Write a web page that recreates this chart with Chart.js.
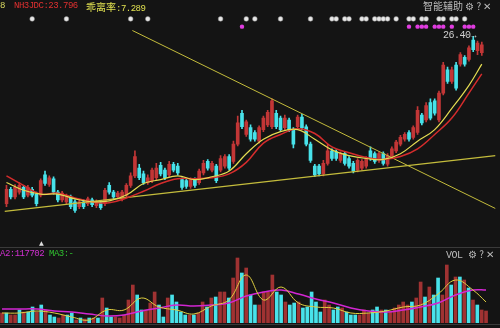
<!DOCTYPE html>
<html>
<head>
<meta charset="utf-8">
<script src="https://cdn.jsdelivr.net/npm/chart.js@4"></script>
<style>
  body { margin: 0; background: #141414; width: 500px; height: 328px; overflow: hidden; position: relative;
         font-family: "Liberation Mono", "DejaVu Sans Mono", monospace; font-size: 9px; }
  canvas { position: absolute; left: 0; }
  .t { position: absolute; white-space: nowrap; line-height: 11px; letter-spacing: -0.5px; }
  .cjk { font-family: "Noto Sans CJK SC", sans-serif; font-size: 10px; letter-spacing: 0; }
  .hr { position: absolute; left: 0; width: 500px; height: 1px; background: #3a3a3a; }
</style>
</head>
<body>
<canvas id="priceChart" width="500" height="240" style="top:0"></canvas>
<canvas id="volChart" width="500" height="71" style="top:252px"></canvas>

<div class="t" style="left:0;top:1px;color:#d8d860">8</div>
<div class="t" style="left:14px;top:1px;color:#e03030">NH3JDC:23.796</div>
<div class="t" style="left:86px;top:1px;color:#e0e050"><span class="cjk">乖离率</span>:7.289</div>
<div class="t cjk" style="left:423px;top:0;color:#bbbbbb">智能辅助 ⚙ ? ✕</div>
<div class="t" style="left:443px;top:30px;color:#cfcfcf;font-size:10px">26.40→</div>

<div class="hr" style="top:247px"></div>
<div class="t" style="left:39px;top:238px;color:#dddddd;font-size:8px">▲</div>
<div class="t" style="left:0;top:249px;color:#d030d0">A2:117702</div>
<div class="t" style="left:49px;top:249px;color:#30c030">MA3:-</div>
<div class="t" style="left:446px;top:248px;color:#bbbbbb;font-size:10px">VOL <span class="cjk">⚙ ? ✕</span></div>
<div class="hr" style="top:324px"></div>

<script>
// daily candles, oldest first
const open = [12.48,13.68,13.04,13.44,13.84,13.20,13.68,13.28,13.20,14.88,
  14.08,14.56,13.44,12.80,12.64,13.04,12.64,12.24,12.64,12.48,
  12.80,12.32,12.56,12.48,14.00,13.44,13.04,12.88,13.20,14.00,
  14.80,15.44,14.96,14.24,14.40,14.64,15.68,15.28,14.88,15.76,
  15.60,14.48,14.40,13.92,14.48,14.24,15.04,16.00,15.28,15.60,
  15.28,15.60,16.40,16.00,17.44,20.00,18.24,18.80,18.40,17.68,
  18.64,19.04,18.88,20.00,19.60,18.80,19.44,18.64,18.88,19.68,
  18.88,17.44,15.60,15.60,14.96,15.84,16.88,16.80,16.08,16.64,
  16.24,15.84,15.28,15.44,15.60,16.88,16.64,16.08,16.64,15.76,
  16.40,16.88,17.44,17.84,18.40,18.00,18.40,19.84,19.44,20.88,
  21.04,19.44,21.68,23.60,22.64,24.00,24.08,24.64,24.48,26.08,
  25.20,25.04];
const close = [13.68,13.04,13.84,14.00,13.04,13.84,13.20,12.48,14.40,14.16,
  14.64,13.44,12.80,13.36,13.04,12.24,11.92,12.64,12.24,12.88,
  12.40,12.64,12.16,13.60,13.44,13.04,13.36,13.44,14.00,14.80,
  16.40,14.64,14.24,14.64,15.28,15.44,14.96,14.64,15.76,15.28,
  15.04,13.84,13.92,14.48,14.00,15.20,15.84,15.44,15.84,14.40,
  16.24,16.40,15.44,17.44,19.20,18.88,19.28,17.84,17.84,18.80,
  19.60,20.08,21.04,18.88,18.64,19.60,18.64,17.44,19.68,18.80,
  17.44,16.08,14.88,14.96,15.84,16.88,16.24,16.24,16.64,15.84,
  15.60,15.20,16.08,16.00,16.24,16.24,16.00,16.64,15.84,16.48,
  17.04,17.60,18.00,18.24,17.84,18.80,20.24,19.20,20.64,19.60,
  20.00,21.68,24.00,22.64,23.60,22.08,24.88,24.08,25.44,25.28,
  25.84,25.68];
const high = [14.00,13.84,14.08,14.24,14.00,14.00,13.84,13.44,14.56,15.20,
  14.80,14.72,13.60,13.52,13.28,13.20,12.80,12.80,12.80,13.04,
  12.96,12.80,12.72,13.76,14.24,13.60,13.52,13.60,14.16,15.04,
  16.88,15.76,15.20,14.88,15.44,15.84,15.92,15.44,16.00,15.92,
  15.84,14.64,14.56,14.64,14.64,15.36,16.08,16.16,16.00,15.76,
  16.48,16.56,16.56,17.68,19.76,20.24,19.44,19.04,18.56,18.96,
  19.76,20.24,21.20,20.24,19.76,19.84,19.60,18.80,19.84,19.92,
  19.04,17.60,15.76,15.76,16.08,17.44,17.04,16.96,16.80,16.80,
  16.40,16.00,16.24,16.16,16.40,17.20,16.80,16.80,16.80,16.64,
  17.20,17.76,18.16,18.40,18.56,18.96,20.56,20.00,20.88,21.20,
  21.20,21.84,24.24,23.84,23.84,24.24,25.04,24.80,25.60,26.40,
  26.00,25.92];
const low = [12.24,12.88,12.88,13.28,12.90,13.04,13.04,12.30,13.04,14.00,
  13.92,13.28,12.64,12.64,12.48,12.08,11.76,12.08,12.08,12.32,
  12.24,12.16,12.00,12.32,13.28,12.88,12.88,12.72,13.04,13.84,
  14.64,14.48,14.08,14.08,14.24,14.48,14.80,14.48,14.72,15.12,
  14.88,13.68,13.76,13.76,13.84,14.08,14.88,15.28,15.12,14.24,
  15.12,15.44,15.28,15.84,17.28,18.72,18.08,17.68,17.68,17.52,
  18.48,18.88,18.72,18.72,18.48,18.64,18.48,17.12,18.72,18.64,
  17.28,15.92,14.72,14.80,14.80,15.68,16.08,16.08,15.92,15.68,
  15.44,15.04,15.12,15.28,15.44,16.08,15.84,15.92,15.68,15.60,
  16.24,16.72,17.28,17.68,17.68,17.84,18.24,19.04,19.28,19.44,
  19.84,19.28,21.52,22.48,22.48,21.92,23.92,23.92,24.32,25.12,
  24.88,24.80];
const volume = [35700,35700,28500,28500,46400,39200,39200,57100,39200,64200,
  46400,28500,21400,17800,28500,28500,35700,10700,17800,14300,
  17800,17800,17800,89200,53500,21400,21400,17800,28500,82000,
  135500,99900,46400,46400,71300,110600,64200,21400,89200,99900,
  74900,39200,28500,28500,28500,35700,74900,57100,89200,92700,
  110600,110600,89200,160500,231900,178400,196200,99900,64200,64200,
  110600,110600,171200,110600,99900,74900,64200,71300,74900,53500,
  57100,110600,74900,39200,82000,64200,46400,57100,53500,39200,
  28500,28500,28500,46400,35700,46400,57100,46400,46400,39200,
  53500,64200,74900,64200,74900,89200,146200,92700,128400,99900,
  160500,99900,206900,135500,164100,164100,153400,124800,82000,64200,
  46400,42800];

// moving averages every 4th day
const maIdx = [0,4,8,12,16,20,24,28,32,36,40,44,48,52,56,60,64,68,72,76,80,84,88,92,96,100,104,108,111];
const ma10 = [14.24,13.60,13.28,13.28,12.88,12.64,12.72,13.20,14.16,14.48,14.80,14.48,14.72,15.20,16.64,17.84,
  18.48,18.64,17.84,16.96,16.48,16.24,16.16,16.64,17.68,18.64,20.40,22.32,24.08];
const ma20 = [14.80,14.00,13.28,13.36,12.96,12.64,12.56,12.96,13.52,14.16,14.56,14.56,14.64,14.96,15.92,17.52,
  18.24,18.72,18.32,17.20,16.72,16.32,16.16,16.40,17.04,18.24,19.60,21.68,23.28];
const volMa1 = [35700,35700,42800,35700,21400,10700,46400,46400,89200,57100,46400,32100,60600,82000,171200,82000,
  128400,71300,57100,53500,35700,35700,42800,57100,64200,103400,153400,117700,74900];
const volMa2 = [49900,49900,49900,42800,39200,32100,25000,28500,42800,53500,64200,60600,64200,71300,96300,110600,
  117700,103400,85600,71300,53500,42800,39200,46400,57100,71300,99900,117700,117702];

// drawn trend lines [dayIndex, price]
const trendDown = [[29.4, 26.88], [114.2, 12.08]];
const trendUp = [[-0.46, 11.84], [114.2, 16.48]];

// signal markers (day index)
const whiteSignals = [6,14,29,33,50,56,58,64,71,76,77,79,80,83,84,86,87,88,89,91,94,95,97,98,101,102,104,105,107];
const pinkSignals = [55,94,96,97,98,100,101,102,104,107,108,109];

const UP = '#c23636', DOWN = '#48e2ea';
const xMin = -0.46, xMax = 114.2;
const candleColor = open.map((o, i) => close[i] >= o ? UP : DOWN);
const pts = (xs, ys) => xs.map((x, k) => ({ x: x, y: ys[k] }));

new Chart(document.getElementById('priceChart'), {
    type: 'bar',
    data: {
        datasets: [
            { type: 'line', data: pts(maIdx, ma10), borderColor: '#e4dc52', borderWidth: 1.2, pointRadius: 0, tension: 0.4, order: 0 },
            { type: 'line', data: pts(maIdx, ma20), borderColor: '#d42c2c', borderWidth: 1.5, pointRadius: 0, tension: 0.4, order: 0 },
            { type: 'line', data: trendDown.map(p => ({ x: p[0], y: p[1] })), borderColor: '#c4bc3c', borderWidth: 1, pointRadius: 0, order: 0 },
            { type: 'line', data: trendUp.map(p => ({ x: p[0], y: p[1] })), borderColor: '#c4bc3c', borderWidth: 1.3, pointRadius: 0, order: 0 },
            { type: 'line', data: whiteSignals.map(i => ({ x: i, y: 27.84 })), showLine: false,
              pointRadius: 2.4, pointBackgroundColor: '#e6e6e6', pointBorderColor: '#888', pointBorderWidth: 0.5, order: 0 },
            { type: 'line', data: pinkSignals.map(i => ({ x: i, y: 27.2 })), showLine: false,
              pointRadius: 2.2, pointBackgroundColor: '#e03ce0', pointBorderWidth: 0, order: 0 },
            { data: open.map((o, i) => ({ x: i, y: [low[i], high[i]] })), backgroundColor: candleColor,
              barThickness: 1, grouped: false, borderWidth: 0, order: 2 },
            { data: open.map((o, i) => ({ x: i, y: [o, close[i]] })), backgroundColor: candleColor,
              barThickness: 3, grouped: false, borderWidth: 0, order: 1 }
        ]
    },
    options: {
        responsive: false, animation: false, devicePixelRatio: 1,
        layout: { padding: 0 },
        plugins: { legend: { display: false }, tooltip: { enabled: false } },
        scales: {
            x: { type: 'linear', min: xMin, max: xMax, display: false, offset: false },
            y: { min: 9.84, max: 29.04, display: false }
        }
    }
});

new Chart(document.getElementById('volChart'), {
    type: 'bar',
    data: {
        datasets: [
            { type: 'line', data: pts(maIdx, volMa1), borderColor: '#e0d040', borderWidth: 1, pointRadius: 0, tension: 0.4, order: 0 },
            { type: 'line', data: pts(maIdx, volMa2), borderColor: '#d226d2', borderWidth: 1.5, pointRadius: 0, tension: 0.4, order: 0 },
            { data: volume.map((v, i) => ({ x: i, y: v })),
              backgroundColor: candleColor.map(c => c === UP ? '#a03232' : DOWN),
              barThickness: 3, borderWidth: 0, order: 1 }
        ]
    },
    options: {
        responsive: false, animation: false, devicePixelRatio: 1,
        layout: { padding: 0 },
        plugins: { legend: { display: false }, tooltip: { enabled: false } },
        scales: {
            x: { type: 'linear', min: xMin, max: xMax, display: false, offset: false },
            y: { min: 0, max: 253300, display: false }
        }
    }
});
</script>
</body>
</html>
